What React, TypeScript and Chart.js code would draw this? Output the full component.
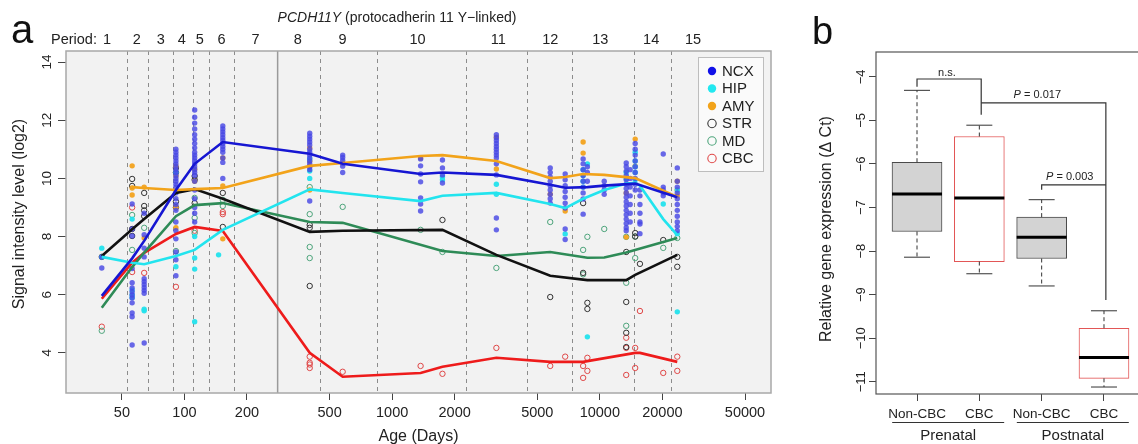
import React, { useEffect, useRef } from 'react';
import { Chart, registerables } from 'chart.js';
Chart.register(...registerables);

const FONT = '"Liberation Sans", Arial, Helvetica, sans-serif';
Chart.defaults.font.family = FONT;

// ---------------- Panel a data ----------------
const regionNames = ['NCX', 'HIP', 'AMY', 'STR', 'MD', 'CBC'];
const lineColors = ['#1616d2', '#22e4ee', '#f2a31a', '#111111', '#2e8b57', '#ee1b1b'];
const dotColors = ['rgba(72,72,228,0.82)', 'rgba(34,226,236,0.95)', 'rgba(242,162,30,0.95)', '#333333', '#4ea57c', '#e04848'];
const dotFilled = [true, true, true, false, false, false];

const xTicksA = [50, 100, 200, 500, 1000, 2000, 5000, 10000, 20000, 50000];
const yTicksA = [4, 6, 8, 10, 12, 14];
const periodBounds = [52.9, 66.7, 87.9, 109.7, 130.9, 172.6, 448, 842, 2280, 4480, 7370, 14630, 22040];
const birthAge = 281;
const periodLabels = ['1', '2', '3', '4', '5', '6', '7', '8', '9', '10', '11', '12', '13', '14', '15'];
const periodLabelAges = [42.4, 59, 76.9, 97, 118.5, 151, 220, 351, 577, 1324, 3245, 5770, 10040, 17660, 28100];

const ncxLine: [number, number][] = [[40, 5.96], [56, 7.25], [64, 7.85], [91, 9.6], [112, 10.5], [153, 11.25], [401, 10.85], [578, 10.5], [1371, 10.15], [1747, 10.2], [3176, 10.12], [5770, 9.78], [6810, 9.68], [8710, 9.7], [10500, 9.75], [14800, 9.82], [23600, 9.35]];
const hipLine: [number, number][] = [[40, 7.3], [56, 7.1], [64, 7.05], [91, 7.33], [112, 7.54], [153, 8.23], [401, 9.62], [578, 9.5], [1371, 9.22], [1747, 9.4], [3176, 9.5], [5770, 9.12], [6810, 8.98], [8310, 9.3], [10500, 9.6], [13400, 9.82], [14800, 9.85], [15600, 9.75], [20200, 8.6], [23600, 8.05]];
const amyLine: [number, number][] = [[56, 9.7], [64, 9.67], [91, 9.6], [112, 9.63], [153, 9.67], [401, 10.43], [578, 10.53], [1371, 10.77], [1747, 10.8], [3176, 10.6], [5770, 10.01], [6810, 10.05], [8310, 10.15], [10500, 10.12], [14800, 10.01], [23600, 9.36]];
const strLine: [number, number][] = [[40, 7.33], [56, 8.25], [64, 8.6], [91, 9.5], [112, 9.63], [153, 9.3], [401, 8.16], [578, 8.2], [1747, 8.23], [3176, 7.37], [5770, 6.65], [8710, 6.5], [13400, 6.5], [14800, 6.68], [23600, 7.37]];
const mdLine: [number, number][] = [[40, 5.55], [56, 6.95], [64, 7.45], [91, 8.7], [112, 9.08], [153, 9.15], [401, 8.5], [578, 8.47], [1747, 7.5], [3176, 7.33], [5770, 7.47], [8710, 7.27], [10500, 7.28], [13400, 7.45], [23600, 7.95]];
const cbcLine: [number, number][] = [[40, 5.86], [56, 7.1], [64, 7.44], [91, 8.09], [112, 8.33], [153, 8.19], [401, 4.0], [578, 3.18], [1371, 3.31], [1747, 3.52], [3176, 3.83], [5770, 3.69], [8310, 3.69], [14800, 4.0], [15600, 4.0], [23600, 3.69]];

const ncxPts: [number, number[]][] = [
  [40, [6.92, 7.3]],
  [56, [8.26, 8.02, 9.12, 6.9, 6.41, 6.23, 6.1, 5.99, 5.89, 5.72, 5.37, 5.24, 4.27]],
  [64, [8.8, 8.06, 7.6, 7.3, 6.55, 6.45, 6.35, 6.25, 6.15, 6.05, 4.34]],
  [91, [11.0, 10.9, 10.8, 10.7, 10.6, 10.5, 10.4, 10.3, 10.2, 10.1, 10.0, 9.9, 9.8, 9.7, 9.5, 9.3, 9.1, 8.9, 8.5, 8.2, 7.92, 7.47, 7.2, 6.65]],
  [112, [12.35, 12.1, 11.9, 11.7, 11.5, 11.35, 11.2, 11.05, 10.9, 10.8, 10.7, 10.6, 10.5, 10.4, 10.3, 10.2, 10.1, 9.9, 9.6, 9.3, 9.0, 8.8, 8.5]],
  [153, [11.8, 11.7, 11.6, 11.5, 11.4, 11.3, 11.2, 11.1, 11.0, 10.9, 10.7, 10.55, 10.0]],
  [401, [11.55, 11.45, 11.35, 11.25, 11.15, 11.0, 10.9, 10.8, 10.7, 10.6, 10.5, 10.4, 10.3, 9.22]],
  [578, [10.8, 10.72, 10.62, 10.52, 10.42, 10.2]],
  [1371, [10.67, 10.43, 10.15, 9.88, 9.33, 9.12, 8.88]],
  [1747, [10.63, 10.36, 10.12, 9.84]],
  [3176, [11.5, 11.4, 11.3, 11.2, 11.1, 11.0, 10.9, 10.8, 10.7, 10.5, 10.12, 8.64, 8.23]],
  [5770, [10.36, 10.2, 10.05, 9.9, 9.75, 9.6, 9.45, 9.3, 9.15]],
  [6810, [10.15, 9.95, 9.75, 9.55, 9.35, 9.15, 8.98, 8.26, 7.9]],
  [8310, [10.67, 10.5, 10.3, 10.1, 9.9, 9.7, 9.5, 9.29, 8.77]],
  [8710, [10.4, 10.2, 9.9]],
  [10500, [9.9, 9.75, 9.6, 9.45]],
  [13400, [10.53, 10.4, 10.25, 10.1, 9.95, 9.8, 9.65, 9.5, 9.35, 9.2, 9.05, 8.9, 8.75, 8.6, 8.45, 8.3, 8.2]],
  [14000, [10.3, 10.0, 9.7, 9.4, 9.1, 8.8, 8.5]],
  [14800, [11.2, 11.0, 10.8, 10.6, 10.4, 10.2, 10.0, 9.8, 9.6]],
  [15600, [9.6, 9.4, 9.1, 8.8, 8.5, 8.43, 8.1]],
  [20200, [10.84, 9.7, 9.6, 9.5, 9.4]],
  [23600, [10.36, 9.9, 9.7, 9.5, 9.3, 9.1, 8.9, 8.7, 8.5, 8.35, 8.2]],
];
const hipPts: [number, number[]][] = [
  [40, [7.6, 7.3]], [56, [8.6, 6.16, 5.9, 6.0]], [64, [5.5, 5.45]], [91, [6.96, 10.2]],
  [112, [7.26, 6.88, 5.07, 8.0]], [146, [7.37]], [401, [10.67, 10.25, 10.0]], [1747, [10.05, 9.95]],
  [3176, [9.8, 9.45]], [6810, [8.09]], [8310, [10.3, 10.1, 9.9, 9.7]], [8710, [10.5, 4.55]],
  [13400, [10.2, 10.0]], [14800, [10.9, 10.6, 10.4, 10.2, 9.95]], [20200, [9.12]], [23600, [9.6, 5.41, 8.1]],
];
const amyPts: [number, number[]][] = [
  [56, [10.43, 9.67, 9.43]], [64, [9.7, 7.95]], [91, [10.42, 10.08, 9.0, 8.3]], [112, [10.32, 9.9]],
  [153, [10.7, 9.74, 7.92]], [401, [11.05, 10.6, 10.42, 9.6]], [1371, [10.7]], [3176, [11.42, 10.32]],
  [5770, [9.46]], [6810, [8.88]], [8310, [11.25, 10.87]], [13400, [9.5, 7.98]], [14800, [11.35, 10.42]],
  [23600, [9.9, 9.6, 9.4]],
];
const strPts: [number, number[]][] = [
  [40, [7.3]], [56, [9.98, 9.74, 8.26, 8.02]], [64, [9.5, 9.05, 8.9, 8.7]], [91, [10.36, 10.2, 9.2, 9.0]],
  [112, [10.08, 9.95, 9.15]], [153, [9.5, 8.33]], [401, [8.4, 8.3, 6.3]], [1747, [8.57]], [5770, [5.92]],
  [8310, [9.15, 6.75]], [8710, [5.72, 5.51]], [13400, [7.47, 5.75, 4.69, 4.2]], [14800, [8.12, 8.0]],
  [15600, [7.06]], [20200, [7.88]], [23600, [7.3, 6.96]],
];
const mdPts: [number, number[]][] = [
  [40, [4.76]], [56, [8.74, 7.54]], [64, [8.3]], [91, [7.5]], [112, [9.33, 8.64, 8.12]], [153, [9.26, 9.05]],
  [401, [9.7, 8.77, 7.64, 7.26]], [578, [9.02]], [1371, [8.23]], [1747, [7.47]], [3176, [6.92]], [5770, [8.5]],
  [8310, [7.54, 6.7]], [8710, [7.99]], [10500, [8.26]], [13400, [7.99, 6.41, 4.93]], [14800, [7.26, 8.0]],
  [20200, [7.61]], [23600, [7.95]],
];
const cbcPts: [number, number[]][] = [
  [40, [4.9]], [56, [6.78, 9.0]], [64, [6.75]], [91, [6.27]], [112, [8.2]], [153, [8.84, 8.77]],
  [401, [3.87, 3.66, 3.48, 3.6]], [578, [3.35]], [1371, [3.55]], [1747, [3.28]], [3176, [4.17]], [5770, [3.55]],
  [6810, [3.87]], [8310, [3.55, 3.14]], [8710, [3.83, 3.38]], [13400, [4.52, 4.17, 3.24]], [14800, [4.17, 3.48]],
  [15600, [5.44]], [20200, [3.31]], [23600, [3.87, 3.38]],
];

const allLines = [ncxLine, hipLine, amyLine, strLine, mdLine, cbcLine];
const allPts = [ncxPts, hipPts, amyPts, strPts, mdPts, cbcPts];

// ---------------- Panel b data ----------------
const boxLabels = ['Non-CBC', 'CBC', 'Non-CBC', 'CBC'];
const boxGroups = ['Prenatal', 'Postnatal'];
const boxQ1 = [-7.55, -8.24, -8.17, -10.92];
const boxQ3 = [-5.96, -5.37, -7.22, -9.77];
const boxMed = [-6.69, -6.78, -7.68, -10.44];
const boxLo = [-8.14, -8.52, -8.8, -11.12];
const boxHi = [-4.31, -5.11, -6.82, -9.37];
const boxIsCbc = [false, true, false, true];
const yTicksB = [-11, -10, -9, -8, -7, -6, -5, -4];

// ---------------- helpers ----------------
function drawText(ctx: CanvasRenderingContext2D, s: string, x: number, y: number, size: number, o: any = {}) {
  ctx.save();
  ctx.font = `${o.italic ? 'italic ' : ''}${size}px ${FONT}`;
  ctx.fillStyle = o.color || '#222';
  ctx.textAlign = o.align || 'center';
  ctx.textBaseline = o.baseline || 'middle';
  ctx.translate(x, y);
  if (o.rotate) ctx.rotate(o.rotate);
  ctx.fillText(s, 0, 0);
  ctx.restore();
}

function seg(ctx: CanvasRenderingContext2D, x1: number, y1: number, x2: number, y2: number) {
  ctx.beginPath();
  ctx.moveTo(x1, y1);
  ctx.lineTo(x2, y2);
  ctx.stroke();
}

const panelAPlugin = {
  id: 'panelA',
  beforeDraw(chart: any) {
    const { ctx, chartArea: a } = chart;
    ctx.save();
    ctx.fillStyle = '#f2f2f2';
    ctx.fillRect(a.left, a.top, a.right - a.left, a.bottom - a.top);
    ctx.restore();
  },
  beforeDatasetsDraw(chart: any) {
    const { ctx, chartArea: a, scales } = chart;
    const x = scales.x;
    ctx.save();
    ctx.strokeStyle = '#8c8c8c';
    ctx.lineWidth = 1;
    ctx.setLineDash([4, 4]);
    periodBounds.forEach((v) => {
      const px = Math.round(x.getPixelForValue(v)) + 0.5;
      seg(ctx, px, a.top, px, a.bottom);
    });
    ctx.setLineDash([]);
    ctx.strokeStyle = '#9a9a9a';
    ctx.lineWidth = 1.5;
    const bx = x.getPixelForValue(birthAge);
    seg(ctx, bx, a.top, bx, a.bottom);
    ctx.restore();
  },
  afterDraw(chart: any) {
    const { ctx, chartArea: a, scales } = chart;
    const x = scales.x;
    const y = scales.y;
    ctx.save();
    ctx.strokeStyle = '#a8a8a8';
    ctx.lineWidth = 1.5;
    ctx.strokeRect(a.left, a.top, a.right - a.left, a.bottom - a.top);
    ctx.restore();

    yTicksA.forEach((v) => drawText(ctx, String(v), 47, y.getPixelForValue(v), 13.5, { rotate: -Math.PI / 2 }));
    drawText(ctx, 'Signal intensity level (log2)', 20, 214, 16, { rotate: -Math.PI / 2 });
    drawText(ctx, 'Age (Days)', (a.left + a.right) / 2, 437, 16);
    drawText(ctx, 'a', 11, 43, 40, { align: 'left', baseline: 'alphabetic', color: '#111' });
    ctx.save();
    ctx.font = `italic 14px ${FONT}`;
    const w1 = ctx.measureText('PCDH11Y').width;
    ctx.font = `14px ${FONT}`;
    const w2 = ctx.measureText(' (protocadherin 11 Y\u2212linked)').width;
    ctx.restore();
    const tx = 397 - (w1 + w2) / 2;
    drawText(ctx, 'PCDH11Y', tx, 18, 14, { align: 'left', italic: true });
    drawText(ctx, ' (protocadherin 11 Y\u2212linked)', tx + w1, 18, 14, { align: 'left' });
    drawText(ctx, 'Period:', 51, 40, 14.5, { align: 'left' });
    periodLabels.forEach((s, i) => drawText(ctx, s, x.getPixelForValue(periodLabelAges[i]), 40, 14.5));

    const lx = 698, ly = 57, lw = 65, lh = 114;
    ctx.save();
    ctx.fillStyle = '#fafafa';
    ctx.fillRect(lx, ly, lw, lh);
    ctx.strokeStyle = '#bdbdbd';
    ctx.lineWidth = 1;
    ctx.strokeRect(lx + 0.5, ly + 0.5, lw, lh);
    regionNames.forEach((n, i) => {
      const iy = 71 + i * 17.5;
      ctx.beginPath();
      ctx.arc(712, iy, 4.2, 0, Math.PI * 2);
      if (dotFilled[i]) {
        ctx.fillStyle = ['#1010e8', '#22e8f0', '#f2a31a'][i];
        ctx.fill();
      } else {
        ctx.strokeStyle = dotColors[i];
        ctx.lineWidth = 1.1;
        ctx.stroke();
      }
      drawText(ctx, n, 722, iy + 0.5, 15, { align: 'left' });
    });
    ctx.restore();
  },
};

const panelBPlugin = {
  id: 'panelB',
  afterDatasetsDraw(chart: any) {
    const { ctx, scales } = chart;
    const x = scales.x;
    const y = scales.y;
    ctx.save();
    boxLabels.forEach((_, i) => {
      const cx = x.getPixelForValue(i + 1);
      ctx.strokeStyle = '#333';
      ctx.lineWidth = 1;
      ctx.setLineDash([4, 3]);
      seg(ctx, cx, y.getPixelForValue(boxQ3[i]), cx, y.getPixelForValue(boxHi[i]));
      seg(ctx, cx, y.getPixelForValue(boxQ1[i]), cx, y.getPixelForValue(boxLo[i]));
      ctx.setLineDash([]);
      seg(ctx, cx - 13, y.getPixelForValue(boxHi[i]), cx + 13, y.getPixelForValue(boxHi[i]));
      seg(ctx, cx - 13, y.getPixelForValue(boxLo[i]), cx + 13, y.getPixelForValue(boxLo[i]));
      ctx.strokeStyle = '#000';
      ctx.lineWidth = 3;
      seg(ctx, cx - 25, y.getPixelForValue(boxMed[i]), cx + 25, y.getPixelForValue(boxMed[i]));
    });
    ctx.strokeStyle = '#333';
    ctx.lineWidth = 1.2;
    const X = (v: number) => x.getPixelForValue(v);
    const Y = (v: number) => y.getPixelForValue(v);
    ctx.beginPath();
    ctx.moveTo(X(1), Y(-4.23));
    ctx.lineTo(X(1), Y(-4.05));
    ctx.lineTo(X(2.03), Y(-4.05));
    ctx.lineTo(X(2.03), Y(-4.87));
    ctx.stroke();
    ctx.beginPath();
    ctx.moveTo(X(2.03), Y(-4.6));
    ctx.lineTo(X(4.03), Y(-4.6));
    ctx.lineTo(X(4.03), Y(-9.12));
    ctx.stroke();
    ctx.beginPath();
    ctx.moveTo(X(3), Y(-6.59));
    ctx.lineTo(X(3), Y(-6.48));
    ctx.lineTo(X(4.03), Y(-6.48));
    ctx.stroke();
    ctx.restore();
    drawText(ctx, 'n.s.', X(1.48), Y(-3.9), 11);
    const pTxt = (val: string, cx: number, cy: number) => {
      ctx.save();
      ctx.font = `italic 11px ${FONT}`;
      const wp = ctx.measureText('P').width;
      ctx.font = `11px ${FONT}`;
      const wr = ctx.measureText(' = ' + val).width;
      ctx.restore();
      const sx = cx - (wp + wr) / 2;
      drawText(ctx, 'P', sx, cy, 11, { align: 'left', italic: true });
      drawText(ctx, ' = ' + val, sx + wp, cy, 11, { align: 'left' });
    };
    pTxt('0.017', X(2.93), Y(-4.41));
    pTxt('0.003', X(3.45), Y(-6.29));
  },
  afterDraw(chart: any) {
    const { ctx, chartArea: a, scales } = chart;
    const x = scales.x;
    const y = scales.y;
    ctx.save();
    ctx.strokeStyle = '#555';
    ctx.lineWidth = 1.2;
    ctx.strokeRect(a.left, a.top, a.right - a.left, a.bottom - a.top);
    ctx.restore();
    yTicksB.forEach((v) => drawText(ctx, '\u2212' + String(Math.abs(v)), 71, y.getPixelForValue(v), 13, { rotate: -Math.PI / 2 }));
    drawText(ctx, 'Relative gene expression (\u0394 Ct)', 37, 229, 16, { rotate: -Math.PI / 2 });
    drawText(ctx, 'b', 22, 44, 38, { align: 'left', baseline: 'alphabetic', color: '#111' });
    boxGroups.forEach((g, gi) => {
      const cx = (x.getPixelForValue(gi * 2 + 1) + x.getPixelForValue(gi * 2 + 2)) / 2;
      ctx.save();
      ctx.strokeStyle = '#333';
      ctx.lineWidth = 1;
      seg(ctx, cx - 56, 422.5, cx + 56, 422.5);
      ctx.restore();
      drawText(ctx, g, cx, 436, 15);
    });
  },
};

export default function App() {
  const refA = useRef<HTMLCanvasElement>(null);
  const refB = useRef<HTMLCanvasElement>(null);

  useEffect(() => {
    const lineSets = allLines.map((pts, i) => ({
      type: 'line' as const,
      label: regionNames[i] + ' trend',
      data: pts.map(([ax, v]) => ({ x: ax, y: v })),
      borderColor: lineColors[i],
      backgroundColor: lineColors[i],
      borderWidth: 2.6,
      pointRadius: 0,
      tension: 0,
      fill: false,
      order: 0,
    }));
    const dotSets = allPts.map((cols, i) => ({
      type: 'scatter' as const,
      label: regionNames[i],
      data: cols.flatMap(([ax, vals]) => vals.map((v) => ({ x: ax, y: v }))),
      pointRadius: 2.7,
      pointBackgroundColor: dotFilled[i] ? dotColors[i] : 'rgba(0,0,0,0)',
      pointBorderColor: dotColors[i],
      pointBorderWidth: dotFilled[i] ? 0 : 1,
      showLine: false,
      order: 1,
    }));

    const chartA = new Chart(refA.current!, {
      type: 'scatter',
      data: { datasets: [...lineSets, ...dotSets] as any },
      options: {
        animation: false,
        responsive: false,
        maintainAspectRatio: false,
        layout: { padding: { left: 0, right: 19, top: 51, bottom: 0 } },
        plugins: { legend: { display: false }, tooltip: { enabled: false } },
        scales: {
          x: {
            type: 'logarithmic',
            min: 26.9,
            max: 66700,
            afterBuildTicks: (s: any) => { s.ticks = xTicksA.map((v) => ({ value: v })); },
            afterFit: (s: any) => { s.height = 51; },
            grid: { drawOnChartArea: false, drawTicks: true, tickLength: 7, color: '#444' },
            border: { display: false },
            ticks: { autoSkip: false, maxRotation: 0, padding: 4, color: '#222', font: { size: 14.5 }, callback: (v: any) => String(v) },
          },
          y: {
            type: 'linear',
            min: 2.62,
            max: 14.38,
            afterBuildTicks: (s: any) => { s.ticks = yTicksA.map((v) => ({ value: v })); },
            afterFit: (s: any) => { s.width = 66; },
            grid: { drawOnChartArea: false, drawTicks: true, tickLength: 8, color: '#444' },
            border: { display: false },
            ticks: { display: false },
          },
        },
      } as any,
      plugins: [panelAPlugin],
    });

    const chartB = new Chart(refB.current!, {
      type: 'bar',
      data: {
        datasets: [
          {
            label: 'box',
            data: boxQ1.map((q, i) => ({ x: i + 1, y: [q, boxQ3[i]] })) as any,
            backgroundColor: boxIsCbc.map((c) => (c ? '#ffffff' : '#d3d3d3')),
            borderColor: boxIsCbc.map((c) => (c ? '#e25656' : '#4a4a4a')),
            borderWidth: 1,
            borderSkipped: false,
            barThickness: 50,
          },
        ],
      },
      options: {
        animation: false,
        responsive: false,
        maintainAspectRatio: false,
        layout: { padding: { left: 0, right: 15, top: 52, bottom: 0 } },
        plugins: { legend: { display: false }, tooltip: { enabled: false } },
        scales: {
          x: {
            type: 'linear',
            min: 0.342,
            max: 4.658,
            offset: false,
            afterBuildTicks: (s: any) => { s.ticks = [1, 2, 3, 4].map((v) => ({ value: v })); },
            afterFit: (s: any) => { s.height = 50; },
            grid: { drawOnChartArea: false, drawTicks: true, tickLength: 7, color: '#444', offset: false },
            border: { display: false },
            ticks: { autoSkip: false, maxRotation: 0, padding: 5, color: '#222', font: { size: 13.5 }, callback: (v: any) => boxLabels[Math.round(v) - 1] || '' },
          },
          y: {
            type: 'linear',
            min: -11.28,
            max: -3.43,
            afterBuildTicks: (s: any) => { s.ticks = yTicksB.map((v) => ({ value: v })); },
            afterFit: (s: any) => { s.width = 86; },
            grid: { drawOnChartArea: false, drawTicks: true, tickLength: 7, color: '#444' },
            border: { display: false },
            ticks: { display: false },
          },
        },
      } as any,
      plugins: [panelBPlugin],
    });

    return () => {
      chartA.destroy();
      chartB.destroy();
    };
  }, []);

  return (
    <div style={{ position: 'fixed', left: 0, top: 0, width: 1138, height: 444, overflow: 'hidden', background: '#ffffff' }}>
      <canvas ref={refA} width={790} height={444} style={{ position: 'absolute', left: 0, top: 0, width: 790, height: 444 }} />
      <canvas ref={refB} width={370} height={444} style={{ position: 'absolute', left: 790, top: 0, width: 370, height: 444 }} />
    </div>
  );
}
